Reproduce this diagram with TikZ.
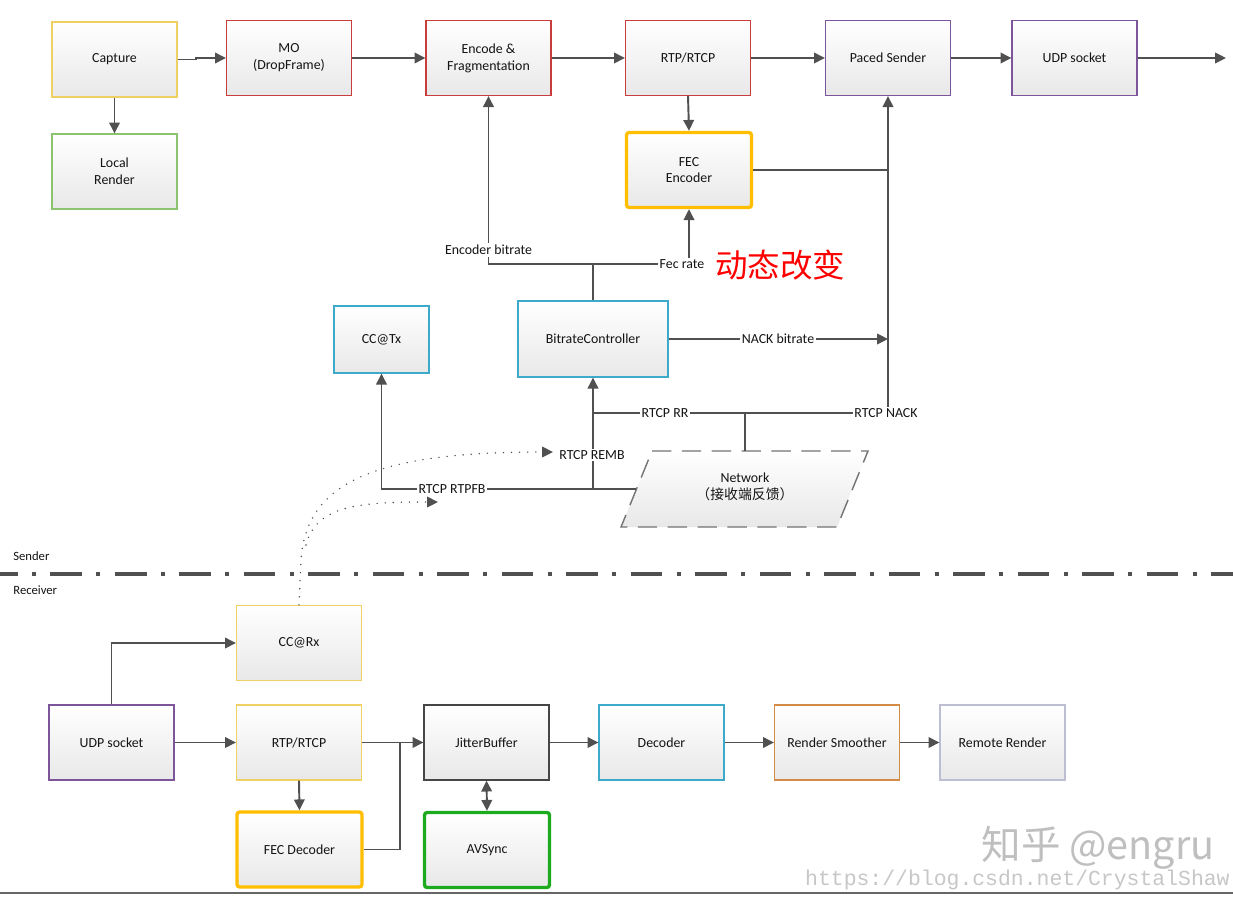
\documentclass[tikz,border=0pt]{standalone}
\usepackage{fontspec}
\setmainfont{Carlito}
\newfontfamily\cjk{Noto Sans CJK SC}
\newfontfamily\monof{Liberation Mono}
\usetikzlibrary{arrows.meta}
\definecolor{cyel}{RGB}{238,208,100}
\definecolor{cred}{RGB}{200,60,60}
\definecolor{cpur}{RGB}{125,85,155}
\definecolor{cgrn}{RGB}{140,195,110}
\definecolor{corg}{RGB}{255,190,0}
\definecolor{ccyan}{RGB}{60,170,200}
\definecolor{cdark}{RGB}{70,70,70}
\definecolor{cbrown}{RGB}{210,140,70}
\definecolor{clav}{RGB}{190,190,210}
\definecolor{cavs}{RGB}{30,170,30}
\definecolor{cline}{RGB}{80,80,80}
\definecolor{ctext}{RGB}{20,20,20}
\newcommand\fs{\fontsize{7.9}{9.6}\selectfont}
\begin{document}
\begin{tikzpicture}[x=0.02cm,y=-0.02cm,
  box/.style={draw, top color=white, bottom color=black!9, minimum width=2.5cm, minimum height=1.5cm,
    align=center, line width=0.7pt, font=\fs, text=ctext, inner sep=1pt},
  thickbox/.style={box, line width=1.9pt, rounded corners=1.5pt},
  conn/.style={draw=cline, line width=1.1pt},
  tip/.style={-{Triangle[length=6.2pt,width=6pt]}},
  arr/.style={conn, tip},
  lab/.style={fill=white, inner sep=1pt, font=\fs, text=ctext}]
\useasboundingbox (0,0) rectangle (1233,896);
\fill[white] (0,0) rectangle (1233,896);

% ---------- sender boxes ----------
\node[box, draw=cyel] (cap) at (114.5,59.5) {Capture};
\node[box, draw=cred] (mo) at (289,58) {MO\\(DropFrame)};
\node[box, draw=cred] (enc) at (488.5,58) {Encode \&\\Fragmentation};
\node[box, draw=cred] (rtp) at (688,58) {RTP/RTCP};
\node[box, draw=cpur] (ps) at (888,58) {Paced Sender};
\node[box, draw=cpur] (udp) at (1074.5,58) {UDP socket};
\node[box, draw=cgrn] (lr) at (114.5,171.5) {Local\\Render};
\node[thickbox, draw=corg] (fec) at (689,170) {FEC\\Encoder};
\node[box, draw=ccyan, minimum width=1.9cm, minimum height=1.34cm] (cctx) at (381.5,339.5) {CC@Tx};
\node[box, draw=ccyan, minimum width=3cm, minimum height=1.52cm] (bc) at (593,339) {BitrateController};

% network parallelogram
\coordinate (n1) at (652,451);
\coordinate (n2) at (868,451);
\coordinate (n3) at (837,527);
\coordinate (n4) at (621,527);
\shade[top color=white, bottom color=black!9] (n1) -- (n2) -- (n3) -- (n4) -- cycle;
\draw[cline!80, line width=0.8pt, dash pattern=on 11pt off 6pt] (n1) -- (n2) -- (n3) -- (n4) -- cycle;
\node[font=\fs, text=ctext, align=center] (net) at (745,487) {Network\\{\cjk （接收端反馈）}};

% ---------- sender connectors ----------
\coordinate (cj) at (196,59.5);
\draw[conn] (cap.east) -- (cj);
\draw[arr] (cj) |- (mo.west);
\draw[arr] (mo.east) -- (enc.west);
\draw[arr] (enc.east) -- (rtp.west);
\draw[arr] (rtp.east) -- (ps.west);
\draw[arr] (ps.east) -- (udp.west);
\coordinate (out) at (1226,58);
\draw[arr] (udp.east) -- (out);
\draw[arr] (cap.south) -- (lr.north);
\draw[arr] (rtp.south) -- (fec.north);

\coordinate (j1) at (593,264);
\draw[conn] (bc.north) -- (j1);
\draw[arr] (j1) -| (enc.south);
\draw[arr] (j1) -| (fec.south);
\node[lab] (encbr) at (488.5,250) {Encoder bitrate};
\node[lab] (fecr) at (682,264) {Fec rate};
\node[text=red, font=\cjk\fontsize{18.5}{20}\selectfont, anchor=west, inner sep=0pt] (dyn) at (715,265) {动态改变};

\coordinate (pj) at (888,170);
\draw[conn] (fec.east) -- (pj);
\coordinate (nk) at (888,413);
\draw[arr] (nk) -- (ps.south);
\coordinate (nb) at (888,339);
\draw[arr] (bc.east) -- (nb);
\node[lab] (nackbr) at (778,339) {NACK bitrate};

\coordinate (rr1) at (593,413);
\draw[conn] (rr1) -- (nk);
\coordinate (nt) at (745,451);
\draw[conn] (nt) -- (745,413);
\node[lab] (rrlab) at (665,413) {RTCP RR};
\node[lab] (nacklab) at (886,413) {RTCP NACK};

\coordinate (fb1) at (636,489);
\coordinate (fb2) at (593,489);
\draw[arr] (fb2) -- (bc.south);
\draw[arr] (fb1) -| (cctx.south);
\node[lab] (fblab) at (452,489) {RTCP RTPFB};
\node[lab] (remb) at (592,455) {RTCP REMB};

% ---------- divider ----------
\draw[cline, line width=2.3pt, dash pattern=on 18pt off 8.2pt on 2.3pt off 8.2pt, dash phase=8pt] (0,574) -- (1233,574);
\node[font=\fontsize{7.2}{8}\selectfont, text=ctext, anchor=west, inner sep=0pt] (snd) at (13,556) {Sender};
\node[font=\fontsize{7.2}{8}\selectfont, text=ctext, anchor=west, inner sep=0pt] (rcv) at (13,590) {Receiver};

% ---------- receiver boxes ----------
\node[box, draw=cyel] (ccrx) at (299,643) {CC@Rx};
\node[box, draw=cpur] (udpr) at (111.5,742.5) {UDP socket};
\node[box, draw=cyel] (rtpr) at (299,742.5) {RTP/RTCP};
\node[box, draw=cdark] (jb) at (486.5,742.5) {JitterBuffer};
\node[box, draw=ccyan] (dec) at (661.5,742.5) {Decoder};
\node[box, draw=cbrown] (rs) at (837,742.5) {Render Smoother};
\node[box, draw=clav] (rem) at (1002.5,742.5) {Remote Render};
\node[thickbox, draw=corg] (fecd) at (299.5,849.5) {FEC Decoder};
\node[thickbox, draw=cavs] (avs) at (487,850) {AVSync};

% ---------- receiver connectors ----------
\draw[arr] (udpr.north) |- (ccrx.west);
\draw[arr] (udpr.east) -- (rtpr.west);
\draw[arr] (rtpr.east) -- (jb.west);
\coordinate (jn) at (400,742.5);
\draw[conn] (fecd.east) -| (jn);
\draw[arr] (rtpr.south) -- (fecd.north);
\draw[conn, {Triangle[length=6.2pt,width=6pt]}-{Triangle[length=6.2pt,width=6pt]}] (jb.south) -- (avs.north);
\draw[arr] (jb.east) -- (dec.west);
\draw[arr] (dec.east) -- (rs.west);
\draw[arr] (rs.east) -- (rem.west);

% dotted feedback curves
\coordinate (d1) at (301,560);
\coordinate (d2) at (553,452);
\coordinate (d3) at (306,545);
\coordinate (d4) at (438,502);
\draw[cline, line width=0.9pt, line cap=round, dash pattern=on 0pt off 4.6pt, tip]
  (ccrx.north) -- (d1) .. controls (306,480) and (380,452) .. (d2);
\draw[cline, line width=0.9pt, line cap=round, dash pattern=on 0pt off 4.6pt, tip]
  (d3) .. controls (316,505) and (360,502) .. (d4);

% bottom rule
\draw[black!60, line width=1.2pt] (0,893) -- (1233,893);

% watermark
\node[text=black!25, font=\cjk\fontsize{22.5}{25}\selectfont, inner sep=0pt] (wm1) at (1098,848) {知乎 @engru};
\node[text=black!22, font=\monof\fontsize{12.2}{13}\selectfont, inner sep=0pt, anchor=east] (wm2) at (1230,880) {https://blog.csdn.net/CrystalShaw};
\end{tikzpicture}
\end{document}
